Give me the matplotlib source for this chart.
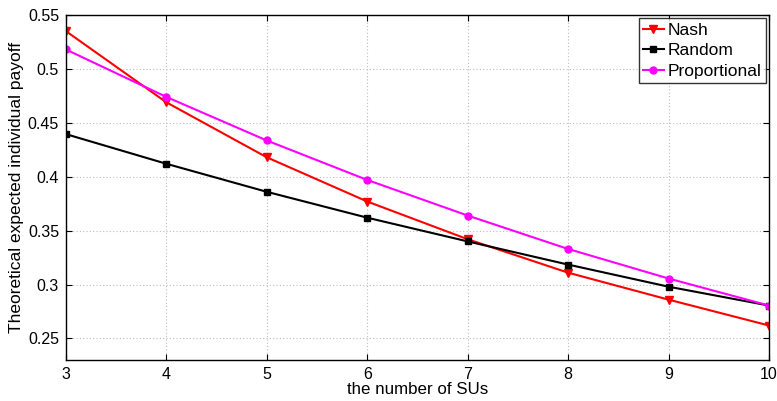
import matplotlib
matplotlib.use("Agg")
import matplotlib.pyplot as plt
import numpy as np

plt.rcParams['font.family'] = ['Liberation Sans', 'DejaVu Sans']

num_sus = [3, 4, 5, 6, 7, 8, 9, 10]
nash = [0.535, 0.469, 0.418, 0.377, 0.342, 0.311, 0.286, 0.262]
random_alloc = [0.4395, 0.412, 0.386, 0.362, 0.340, 0.3185, 0.298, 0.2805]
proportional = [0.518, 0.474, 0.4336, 0.397, 0.364, 0.333, 0.3056, 0.2805]

fig = plt.figure(figsize=(7.77, 4.01), dpi=100)
ax = fig.add_axes([0.0849, 0.1022, 0.9048, 0.8604])

ax.plot(num_sus, nash, color='red', marker='v', markersize=5.5, linewidth=1.5, label='Nash')
ax.plot(num_sus, random_alloc, color='black', marker='s', markersize=4, linewidth=1.5, label='Random')
ax.plot(num_sus, proportional, color='magenta', marker='o', markersize=5, linewidth=1.5, label='Proportional')

ax.set_xlim(3, 10)
ax.set_ylim(0.23, 0.55)
ax.set_xticks(range(3, 11))
ax.set_yticks([0.25, 0.3, 0.35, 0.4, 0.45, 0.5, 0.55])
ax.set_yticklabels(['0.25', '0.3', '0.35', '0.4', '0.45', '0.5', '0.55'])
ax.grid(True, linestyle=(0, (1, 2)), color='#bdbdbd', linewidth=0.8)
ax.tick_params(direction='in', top=True, right=True, labelsize=11.5, length=4, pad=5)
for s in ax.spines.values():
    s.set_linewidth(1.0)

ax.set_xlabel('the number of SUs', fontsize=12.2, labelpad=0)
ax.set_ylabel('Theoretical expected individual payoff', fontsize=12.5, labelpad=3)

leg = ax.legend(loc='upper right', fontsize=12.5, frameon=True, fancybox=False,
                edgecolor='black', handlelength=1.2, handletextpad=0.2,
                borderpad=0.25, labelspacing=0.3, borderaxespad=0.2)
leg.get_frame().set_linewidth(1.0)

fig.savefig('out.png', dpi=100)
